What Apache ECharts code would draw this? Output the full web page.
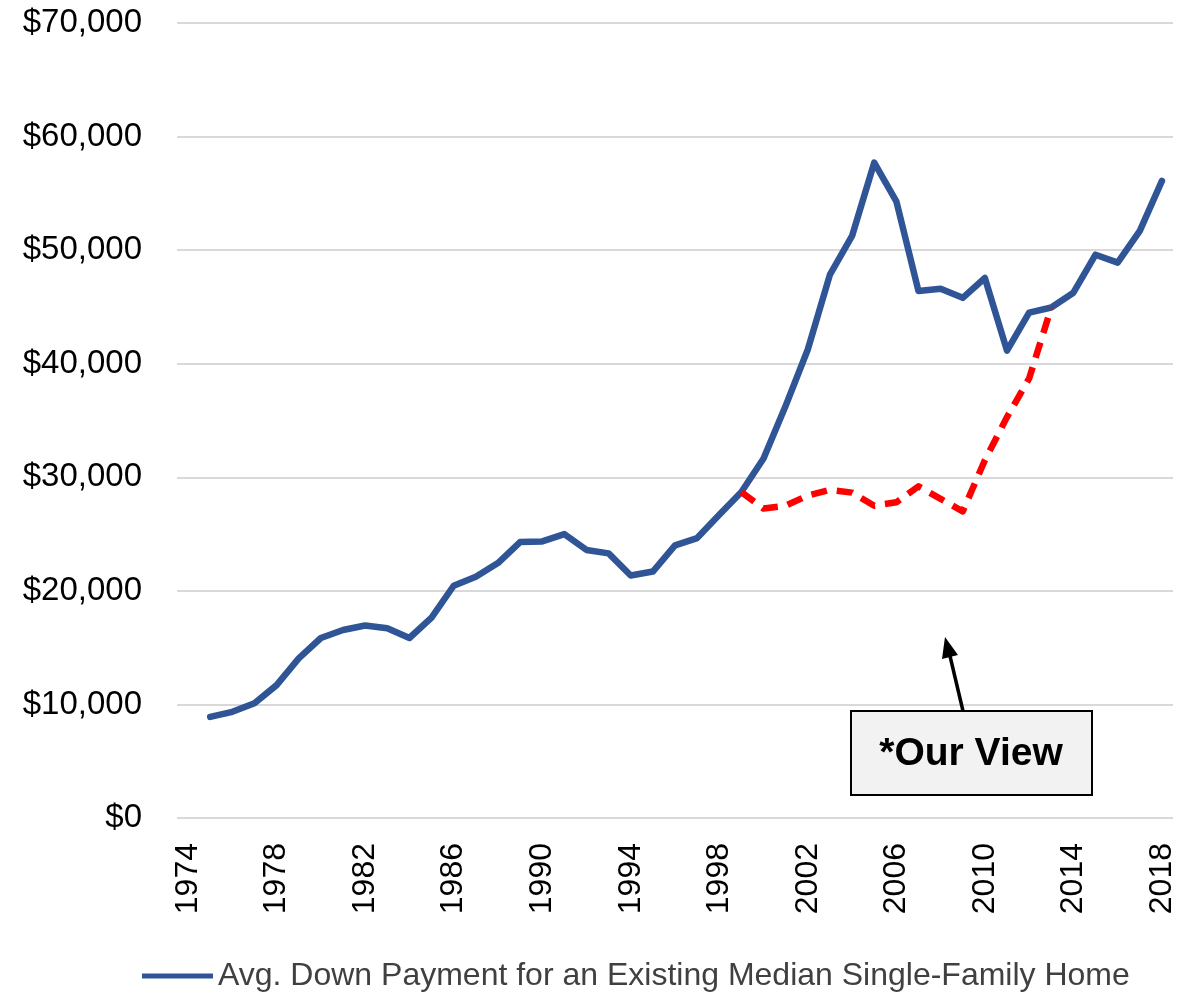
<!DOCTYPE html>
<html>
<head>
<meta charset="utf-8">
<script src="https://cdn.jsdelivr.net/npm/echarts@6/dist/echarts.min.js"></script>
<style>
  html, body { margin: 0; padding: 0; background: #fff; }
  #main { width: 1201px; height: 998px; }
</style>
</head>
<body>
<div id="main"></div>
<script>
// years on the category axis (1974 has no data)
var years = [];
for (var y = 1974; y <= 2018; y++) years.push(String(y));

// avg. down payment, 1975 - 2018
var downPayment = [
  null,
  8900, 9350, 10100, 11700, 14050, 15850, 16550, 16950, 16700, 15850,
  17650, 20450, 21250, 22450, 24300, 24350, 25000, 23600, 23300, 21350,
  21700, 24000, 24650, 26700, 28700, 31650, 36300, 41250, 47850, 51250,
  57700, 54300, 46400, 46600, 45800, 47550, 41150, 44500, 44950, 46250,
  49600, 48900, 51700, 56100
];

// "our view" path, 1999 - 2013
var ourView = [
  28700, 27250, 27500, 28400, 28900, 28650, 27500, 27800, 29200, 28100,
  27000, 31500, 35300, 38700, 44950
];
var ourViewStart = 1999;

var ourViewData = years.map(function (yr) {
  var i = Number(yr) - ourViewStart;
  return (i >= 0 && i < ourView.length) ? ourView[i] : null;
});

var yTicks = [0, 10000, 20000, 30000, 40000, 50000, 60000, 70000];
var legendName = 'Avg. Down Payment for an Existing Median Single-Family Home';

var myChart = echarts.init(document.getElementById('main'));

var option = {
  animation: false,
  textStyle: { fontFamily: 'Liberation Sans' },
  grid: { left: 177, right: 28, top: 23, bottom: 180, containLabel: false },
  legend: {
    data: [legendName],
    left: 142,
    top: 960,
    padding: 0,
    icon: 'rect',
    itemWidth: 71,
    itemHeight: 5,
    textStyle: { fontSize: 32, color: '#404040' }
  },
  xAxis: {
    type: 'category',
    data: years,
    boundaryGap: true,
    axisLine: { show: false },
    axisTick: { show: false },
    axisLabel: {
      interval: 3,
      rotate: 90,
      margin: 25,
      fontSize: 32,
      color: '#000'
    }
  },
  yAxis: {
    type: 'value',
    min: yTicks[0],
    max: yTicks[yTicks.length - 1],
    interval: 10000,
    axisLine: { show: false },
    axisTick: { show: false },
    splitLine: { lineStyle: { color: '#d9d9d9', width: 2 } },
    axisLabel: {
      margin: 35,
      fontSize: 33,
      color: '#000',
      formatter: function (v) {
        return '$' + v.toLocaleString('en-US');
      }
    }
  },
  series: [
    {
      name: legendName,
      type: 'line',
      data: downPayment,
      symbol: 'none',
      connectNulls: false,
      itemStyle: { color: '#2f5597' },
      lineStyle: { color: '#2f5597', width: 6.5, join: 'round', cap: 'round' },
      z: 3
    },
    {
      name: 'Our View',
      type: 'line',
      data: ourViewData,
      symbol: 'none',
      itemStyle: { color: '#ff0000' },
      lineStyle: { color: '#ff0000', width: 6.5, type: [16, 10], cap: 'butt', join: 'round' },
      z: 4
    }
  ],
  graphic: [
    {
      type: 'line',
      shape: { x1: 963, y1: 711, x2: 950, y2: 656 },
      style: { stroke: '#000', lineWidth: 3.5 },
      z: 10
    },
    {
      type: 'polygon',
      shape: { points: [[945, 637], [958, 655], [942, 659]] },
      style: { fill: '#000' },
      z: 10
    },
    {
      type: 'rect',
      shape: { x: 851, y: 711, width: 241, height: 84 },
      style: { fill: '#f2f2f2', stroke: '#000', lineWidth: 2 },
      z: 10
    },
    {
      type: 'text',
      x: 971,
      y: 754,
      style: {
        text: '*Our View',
        fill: '#000',
        font: 'bold 39px "Liberation Sans"',
        align: 'center',
        verticalAlign: 'middle'
      },
      z: 11
    }
  ]
};

myChart.setOption(option);
</script>
</body>
</html>
